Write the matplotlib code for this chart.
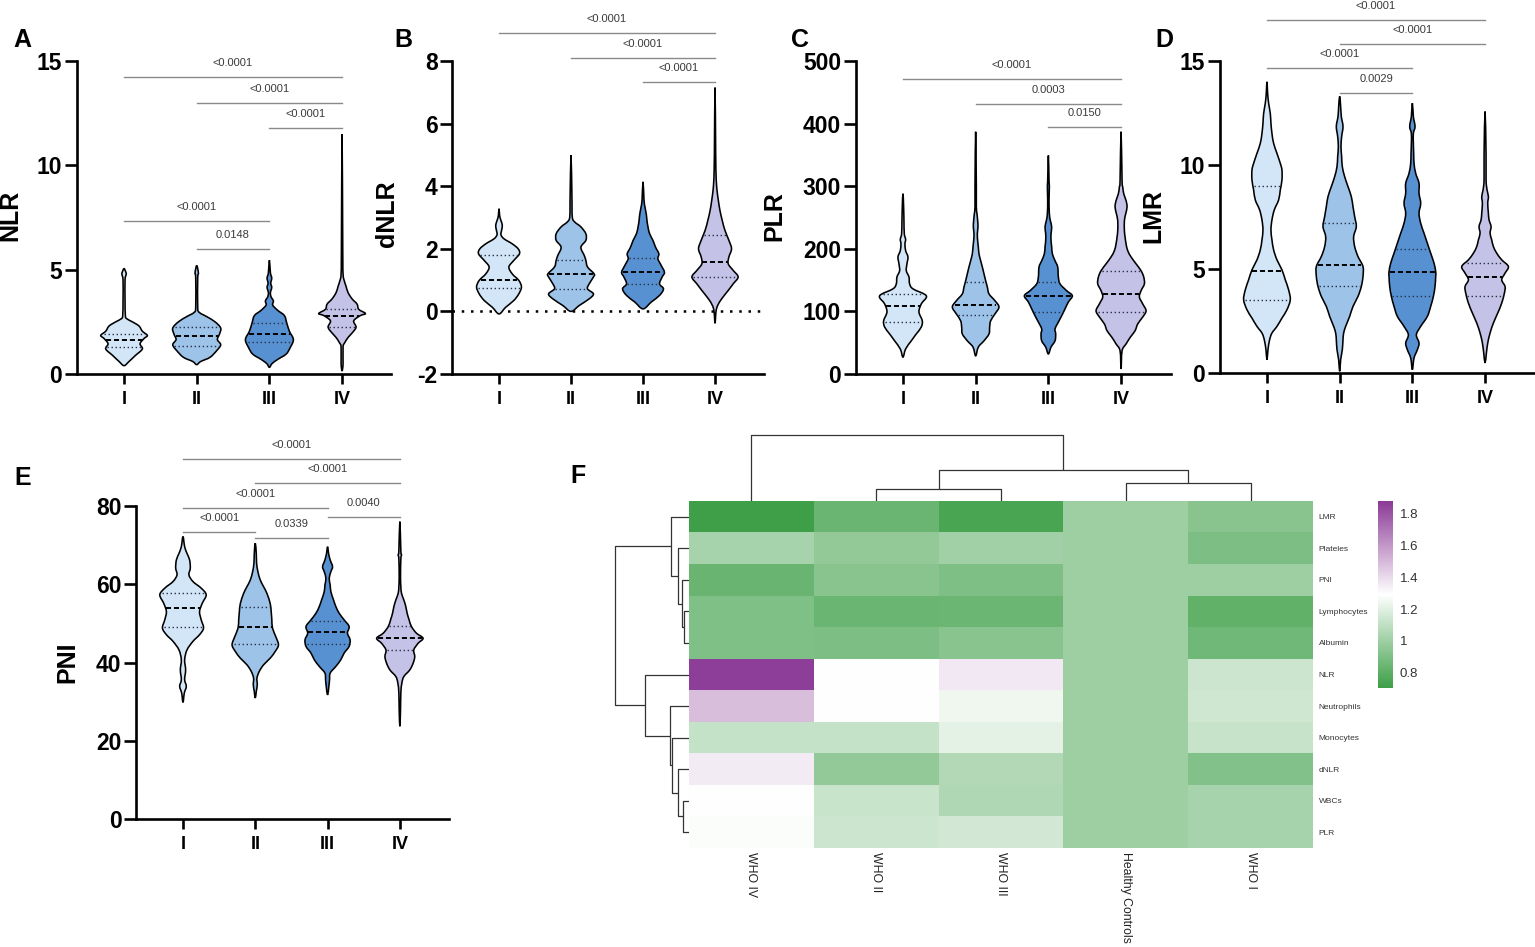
import numpy as np
import matplotlib
matplotlib.use("Agg")
import matplotlib.pyplot as plt
from matplotlib.path import Path
from matplotlib.patches import PathPatch
from matplotlib.colors import LinearSegmentedColormap

plt.rcParams['font.family'] = ['Liberation Sans', 'DejaVu Sans']
plt.rcParams['axes.unicode_minus'] = False

W, H = 1535, 947
fig = plt.figure(figsize=(W / 100, H / 100), dpi=100)

groups = ["I", "II", "III", "IV"]
fill_colors = ["#d2e6f7", "#9dc3e9", "#5891d2", "#c4c2e6"]

# ---------------- violin outlines: (value, relative half-width; 72 = widest) ----------------
nlr_prof = [
    [(0.4, 0), (0.6, 15), (0.9, 35), (1.2, 55), (1.45, 48), (1.7, 60), (1.85, 70), (2.05, 55), (2.3, 45),
     (2.5, 25), (2.65, 8), (2.8, 4), (3.5, 3), (4.5, 3), (4.75, 6), (4.85, 6), (5.05, 0)],
    [(0.45, 0), (0.6, 12), (0.8, 40), (1.12, 60), (1.4, 72), (1.65, 62), (1.9, 68), (2.2, 72), (2.5, 55),
     (2.75, 30), (2.95, 8), (3.2, 3), (4.6, 3), (4.85, 5), (5.2, 0)],
    [(0.32, 0), (0.5, 8), (0.7, 25), (0.95, 50), (1.25, 62), (1.65, 72), (2.05, 60), (2.45, 52), (2.8, 45),
     (3.05, 25), (3.3, 10), (3.5, 12), (3.7, 5), (3.9, 3), (4.15, 7), (4.35, 4), (4.6, 7), (4.85, 3), (5.45, 0)],
    [(0.15, 0), (0.5, 3), (1.3, 3), (1.5, 8), (1.75, 18), (2.0, 32), (2.25, 42), (2.55, 35), (2.8, 55),
     (2.9, 70), (3.1, 50), (3.35, 45), (3.6, 30), (3.9, 18), (4.2, 12), (4.5, 6), (4.8, 3), (6.0, 2), (11.5, 0)],
]
nlr_median = [1.63, 1.84, 1.92, 2.80]
nlr_q1 = [1.28, 1.36, 1.52, 2.24]
nlr_q3 = [1.92, 2.24, 2.43, 3.12]
nlr_sig_pairs = [(1, 4), (2, 4), (3, 4), (1, 3), (2, 3)]
nlr_sig_y = [14.23, 12.98, 11.77, 7.32, 5.97]
nlr_sig_txt = ["<0.0001", "<0.0001", "<0.0001", "<0.0001", "0.0148"]

dnlr_prof = [
    [(-0.08, 0), (0.13, 20), (0.35, 45), (0.56, 60), (0.78, 68), (0.99, 60), (1.2, 40), (1.42, 30), (1.63, 45),
     (1.84, 62), (2.0, 58), (2.16, 40), (2.32, 15), (2.45, 6), (2.6, 8), (2.75, 10), (2.9, 6), (3.05, 2), (3.28, 0)],
    [(0.0, 0), (0.19, 25), (0.4, 55), (0.56, 68), (0.72, 50), (0.88, 55), (1.1, 68), (1.2, 70), (1.42, 50),
     (1.63, 45), (1.79, 40), (2.05, 30), (2.27, 45), (2.48, 45), (2.7, 30), (2.85, 12), (3.0, 4), (3.5, 3), (4.99, 0)],
    [(0.08, 0), (0.3, 25), (0.51, 50), (0.72, 62), (0.88, 50), (1.1, 58), (1.25, 65), (1.47, 55), (1.68, 45),
     (1.84, 48), (2.05, 38), (2.27, 30), (2.48, 20), (2.7, 15), (2.9, 12), (3.1, 10), (3.33, 6), (3.55, 3), (4.14, 0)],
    [(-0.38, 0), (0.0, 3), (0.19, 8), (0.4, 20), (0.67, 40), (0.88, 55), (1.1, 70), (1.31, 55), (1.52, 40),
     (1.74, 42), (2.0, 50), (2.27, 42), (2.59, 30), (2.9, 22), (3.22, 15), (3.55, 10), (3.87, 6), (4.14, 4),
     (4.4, 3), (5.0, 2), (7.15, 0)],
]
dnlr_median = [1.01, 1.20, 1.25, 1.58]
dnlr_q1 = [0.75, 0.72, 0.88, 1.10]
dnlr_q3 = [1.81, 1.65, 1.70, 2.43]
dnlr_sig_pairs = [(1, 4), (2, 4), (3, 4)]
dnlr_sig_y = [8.89, 8.11, 7.34]
dnlr_sig_txt = ["<0.0001", "<0.0001", "<0.0001"]

plr_prof = [
    [(27, 0), (40, 8), (53, 25), (64, 40), (75, 55), (85, 58), (99, 48), (112, 55), (125, 70), (136, 30),
     (144, 20), (155, 18), (165, 10), (176, 12), (187, 15), (197, 8), (208, 6), (215, 8), (224, 4), (245, 3),
     (267, 2), (288, 0)],
    [(29, 0), (43, 8), (53, 25), (64, 40), (75, 42), (85, 45), (96, 58), (107, 70), (117, 58), (128, 40),
     (139, 35), (149, 30), (160, 25), (171, 20), (181, 15), (192, 10), (203, 8), (213, 6), (224, 5), (235, 7),
     (245, 6), (256, 4), (267, 2), (300, 2), (387, 0)],
    [(32, 0), (43, 8), (53, 20), (64, 22), (72, 20), (83, 30), (93, 40), (104, 50), (115, 60), (125, 72),
     (133, 55), (144, 35), (155, 30), (171, 28), (181, 20), (192, 12), (203, 10), (213, 8), (224, 8), (235, 10),
     (245, 6), (256, 3), (277, 2), (299, 3), (309, 2), (349, 0)],
    [(8, 0), (37, 3), (48, 15), (59, 28), (69, 42), (80, 50), (91, 65), (101, 75), (112, 65), (123, 55),
     (133, 60), (144, 70), (155, 68), (165, 60), (176, 45), (187, 30), (197, 20), (208, 15), (219, 12),
     (229, 10), (245, 10), (256, 14), (267, 18), (277, 15), (288, 8), (299, 5), (309, 3), (387, 0)],
]
plr_median = [109, 111, 125, 128]
plr_q1 = [83, 94, 99, 99]
plr_q3 = [127, 147, 147, 165]
plr_sig_pairs = [(1, 4), (2, 4), (3, 4)]
plr_sig_y = [471, 432, 394]
plr_sig_txt = ["<0.0001", "0.0003", "0.0150"]

lmr_prof = [
    [(0.64, 0), (1.12, 3), (1.6, 8), (1.92, 15), (2.24, 30), (2.64, 45), (3.04, 60), (3.52, 70), (4.0, 65),
     (4.48, 55), (4.96, 45), (5.44, 30), (5.92, 20), (6.4, 15), (6.88, 12), (7.36, 15), (7.84, 22), (8.32, 35),
     (8.8, 40), (9.28, 45), (9.76, 45), (10.08, 40), (10.56, 30), (11.04, 20), (11.52, 15), (12.0, 12),
     (12.48, 10), (12.97, 5), (13.45, 2), (14.0, 0)],
    [(0.08, 0), (0.64, 3), (1.12, 8), (1.6, 10), (1.92, 12), (2.24, 18), (2.72, 30), (3.2, 40), (3.68, 55),
     (4.16, 65), (4.64, 70), (5.12, 70), (5.6, 55), (6.08, 45), (6.56, 42), (7.04, 50), (7.52, 45), (8.0, 40),
     (8.48, 35), (8.96, 25), (9.44, 15), (9.92, 8), (10.4, 6), (10.88, 4), (11.37, 6), (11.85, 10), (12.33, 5),
     (12.8, 3), (13.3, 0)],
    [(0.16, 0), (0.72, 5), (1.12, 15), (1.44, 20), (1.84, 12), (2.24, 25), (2.72, 45), (3.2, 55), (3.68, 63),
     (4.16, 68), (4.64, 70), (4.88, 70), (5.28, 65), (5.76, 55), (6.24, 45), (6.72, 35), (7.2, 25), (7.68, 20),
     (8.16, 25), (8.64, 20), (9.12, 20), (9.6, 10), (10.08, 5), (10.56, 4), (11.04, 3), (11.52, 3), (11.85, 8),
     (12.33, 3), (12.97, 0)],
    [(0.48, 0), (0.96, 4), (1.44, 8), (1.92, 15), (2.4, 25), (2.88, 38), (3.36, 50), (3.84, 58), (4.16, 60),
     (4.48, 50), (4.8, 60), (5.12, 70), (5.44, 50), (5.76, 35), (6.08, 25), (6.4, 20), (6.72, 15), (7.04, 18),
     (7.36, 12), (7.68, 10), (8.16, 8), (8.48, 10), (8.8, 6), (9.28, 3), (10.5, 3), (12.57, 0)],
]
lmr_median = [4.88, 5.17, 4.85, 4.60]
lmr_q1 = [3.52, 4.16, 3.71, 3.71]
lmr_q3 = [9.00, 7.20, 5.95, 5.31]
lmr_sig_pairs = [(1, 4), (2, 4), (1, 3), (2, 3)]
lmr_sig_y = [16.99, 15.82, 14.65, 13.48]
lmr_sig_txt = ["<0.0001", "<0.0001", "<0.0001", "0.0029"]

pni_prof = [
    [(29.8, 0), (32.2, 4), (33.9, 10), (35.6, 5), (38.1, 8), (40.7, 5), (43.2, 12), (45.4, 30), (47.1, 50),
     (48.8, 62), (50.9, 55), (53.0, 50), (55.1, 58), (57.3, 70), (59.0, 55), (60.7, 30), (62.4, 18), (64.1, 22),
     (66.2, 20), (67.9, 12), (69.6, 5), (72.2, 0)],
    [(30.9, 0), (32.6, 3), (34.3, 6), (36.0, 5), (37.7, 12), (39.4, 25), (41.1, 45), (42.8, 60), (44.5, 70),
     (46.6, 62), (48.8, 52), (50.9, 50), (53.0, 48), (55.1, 45), (57.7, 35), (59.4, 25), (61.1, 15), (63.2, 8),
     (65.4, 4), (67.9, 3), (70.5, 0)],
    [(31.7, 0), (33.9, 4), (35.6, 6), (37.3, 8), (39.0, 25), (40.7, 40), (42.4, 50), (44.1, 65), (45.8, 68),
     (47.5, 60), (49.2, 65), (50.9, 50), (52.6, 35), (54.3, 25), (56.0, 18), (58.1, 10), (59.8, 8), (61.5, 5),
     (63.2, 10), (64.5, 15), (66.2, 8), (67.9, 3), (69.6, 0)],
    [(23.7, 0), (27.9, 2), (32.2, 3), (34.7, 6), (36.4, 12), (38.1, 30), (39.8, 40), (41.5, 45), (43.2, 42),
     (44.9, 55), (46.2, 70), (47.5, 50), (49.2, 35), (50.9, 28), (52.6, 22), (54.3, 18), (56.0, 12), (57.7, 5),
     (59.4, 3), (62.0, 2), (66.5, 3), (67.5, 5), (68.5, 3), (76.0, 0)],
]
pni_median = [53.9, 49.0, 47.7, 46.2]
pni_q1 = [49.0, 44.8, 44.8, 43.2]
pni_q3 = [57.7, 54.3, 50.6, 49.4]
pni_sig_pairs = [(1, 4), (2, 4), (1, 3), (3, 4), (1, 2), (2, 3)]
pni_sig_y = [92.0, 85.8, 79.6, 77.3, 73.4, 71.8]
pni_sig_txt = ["<0.0001", "<0.0001", "<0.0001", "0.0040", "<0.0001", "0.0339"]

# ---------------- heatmap data ----------------
heat_rows = ["LMR", "Plateles", "PNI", "Lymphocytes", "Albumin", "NLR", "Neutrophils",
             "Monocytes", "dNLR", "WBCs", "PLR"]
heat_cols = ["WHO IV", "WHO II", "WHO III", "Healthy Controls", "WHO I"]
who4_vals = [0.71, 1.026, 0.842, 0.91, 0.91, 1.86, 1.48, 1.114, 1.35, 1.29, 1.28]
who2_vals = [0.845, 0.962, 0.937, 0.845, 0.90, 1.29, 1.29, 1.117, 0.968, 1.127, 1.136]
who3_vals = [0.745, 1.01, 0.904, 0.85, 0.937, 1.36, 1.243, 1.212, 1.06, 1.053, 1.157]
hc_vals = [1.0, 1.0, 1.0, 1.0, 1.0, 1.0, 1.0, 1.0, 1.0, 1.0, 1.0]
who1_vals = [0.937, 0.90, 1.0, 0.818, 0.864, 1.136, 1.145, 1.124, 0.919, 1.026, 1.026]
cbar_ticks = [0.8, 1.0, 1.2, 1.4, 1.6, 1.8]
cbar_labels = ["0.8", "1", "1.2", "1.4", "1.6", "1.8"]

# dendrogram merges (child a, child b, height); leaves in displayed order
col_merges = [(1, 2, 0.12), (3, 4, 0.18), (5, 6, 0.31), (0, 7, 0.66)]
row_merges = [(3, 4, 0.046), (2, 11, 0.073), (1, 12, 0.11), (0, 13, 0.18),
              (9, 10, 0.06), (8, 15, 0.11), (7, 16, 0.17), (6, 17, 0.19),
              (5, 18, 0.436), (14, 19, 0.74)]

WMAX = 0.33


def add_ax(l, t, w, h):
    return fig.add_axes([l / W, 1 - (t + h) / H, w / W, h / H])


def violin_path(x0, prof):
    """Closed outline through every knot, drawn as cubic Bezier pieces by matplotlib."""
    ys = [p[0] for p in prof]
    ws = [p[1] / 72 * WMAX for p in prof]
    right = [(x0 + w, y) for y, w in zip(ys, ws)]
    left = [(x0 - w, y) for y, w in zip(ys[::-1], ws[::-1])]
    pts = np.array(right + left[1:-1])
    n = len(pts)
    verts = [tuple(pts[0])]
    codes = [Path.MOVETO]
    for i in range(n):
        p0 = pts[(i - 1) % n]
        p1 = pts[i]
        p2 = pts[(i + 1) % n]
        p3 = pts[(i + 2) % n]
        c1 = p1 + (p2 - p0) / 6.0
        c2 = p2 - (p3 - p1) / 6.0
        verts += [tuple(c1), tuple(c2), tuple(p2)]
        codes += [Path.CURVE4] * 3
    verts.append(tuple(pts[0]))
    codes.append(Path.CLOSEPOLY)
    return Path(verts, codes)


def violin_panel(ax, profs, med, q1, q3, yticks, ylim, pairs, sig_y, sig_txt):
    for i, (prof, c) in enumerate(zip(profs, fill_colors)):
        x0 = i + 1
        ax.add_patch(PathPatch(violin_path(x0, prof), facecolor=c, edgecolor="black",
                               lw=1.15, zorder=3))
        ys = [p[0] for p in prof]
        ws = [p[1] / 72 * WMAX for p in prof]
        for val, ls, lw, col in [(q1[i], (0, (1, 1.9)), 1.0, "#263248"),
                                 (q3[i], (0, (1, 1.9)), 1.0, "#263248"),
                                 (med[i], (0, (2.6, 1.5)), 1.4, "black")]:
            hw = np.interp(val, ys, ws) * 0.95
            ax.plot([x0 - hw, x0 + hw], [val, val], ls=ls, lw=lw, color=col, zorder=4)
    for (a, b), yv, t in zip(pairs, sig_y, sig_txt):
        ax.plot([a, b], [yv, yv], color="#8a8a8a", lw=1.0, clip_on=False, zorder=2)
        ax.annotate(t, xy=((a + b) / 2, yv), xytext=(0, 6.5), textcoords="offset points",
                    ha="center", va="bottom", fontsize=8, color="#3a3a3a", annotation_clip=False)
    ax.set_xlim(0.35, 4.68)
    ax.set_ylim(*ylim)
    ax.set_xticks([1, 2, 3, 4])
    ax.set_xticklabels(groups, fontsize=13, fontweight="bold")
    ax.set_yticks(yticks)
    ax.set_yticklabels([str(v) for v in yticks], fontsize=16.5, fontweight="bold")
    for s in ["top", "right"]:
        ax.spines[s].set_visible(False)
    for s in ["left", "bottom"]:
        ax.spines[s].set_linewidth(1.9)
    ax.tick_params(axis="y", length=8.5, width=1.9, pad=2)
    ax.tick_params(axis="x", length=7, width=1.9, pad=5)
    ax.patch.set_alpha(0)


axA = add_ax(76.8, 61, 314.7, 313)
violin_panel(axA, nlr_prof, nlr_median, nlr_q1, nlr_q3, [0, 5, 10, 15], (0, 15),
             nlr_sig_pairs, nlr_sig_y, nlr_sig_txt)
axB = add_ax(452.2, 61, 311.8, 313)
axB.axhline(0, color="black", lw=1.8, ls=(0, (1, 2.7)), zorder=1)
violin_panel(axB, dnlr_prof, dnlr_median, dnlr_q1, dnlr_q3, [-2, 0, 2, 4, 6, 8], (-2, 8),
             dnlr_sig_pairs, dnlr_sig_y, dnlr_sig_txt)
axC = add_ax(855.7, 61, 314.8, 313)
violin_panel(axC, plr_prof, plr_median, plr_q1, plr_q3, [0, 100, 200, 300, 400, 500], (0, 500),
             plr_sig_pairs, plr_sig_y, plr_sig_txt)
axD = add_ax(1219.7, 61, 314.8, 312)
violin_panel(axD, lmr_prof, lmr_median, lmr_q1, lmr_q3, [0, 5, 10, 15], (0, 15),
             lmr_sig_pairs, lmr_sig_y, lmr_sig_txt)
axE = add_ax(136, 506, 313, 313)
violin_panel(axE, pni_prof, pni_median, pni_q1, pni_q3, [0, 20, 40, 60, 80], (0, 80),
             pni_sig_pairs, pni_sig_y, pni_sig_txt)

# y labels
for txt, x, y in [("NLR", 10, 215), ("dNLR", 387, 214), ("PLR", 774, 216),
                  ("LMR", 1153, 216), ("PNI", 67, 662)]:
    fig.text(x / W, 1 - y / H, txt, rotation=90, ha="center", va="center",
             fontsize=18, fontweight="bold")

# panel letters
for txt, x, y in [("A", 13, 47), ("B", 394, 47), ("C", 791, 47), ("D", 1155, 47),
                  ("E", 14, 485), ("F", 570, 483)]:
    fig.text(x / W, 1 - y / H, txt, ha="left", va="baseline", fontsize=18, fontweight="bold")

# ---------------- heatmap ----------------
cmap = LinearSegmentedColormap.from_list("gwp", [(0.0, "#3d9f47"), (0.5, "#ffffff"), (1.0, "#8b3a96")])
data = np.column_stack([who4_vals, who2_vals, who3_vals, hc_vals, who1_vals])
axH = add_ax(689, 501, 624, 347)
im = axH.imshow(data, cmap=cmap, vmin=0.705, vmax=1.878, aspect="auto",
                extent=(0, 5, 11, 0), interpolation="nearest")
axH.set_xticks(np.arange(5) + 0.5)
axH.set_xticklabels(heat_cols, rotation=-90, fontsize=8.8, color="#222222", va="top", ha="center")
axH.yaxis.tick_right()
axH.set_yticks(np.arange(11) + 0.5)
axH.set_yticklabels(heat_rows, fontsize=6, color="#333333")
axH.tick_params(length=0)
axH.tick_params(axis="y", pad=4)
axH.tick_params(axis="x", pad=3)
for s in axH.spines.values():
    s.set_visible(False)


def draw_dendro(ax, n, merges, orient):
    pos = {i: i + 0.5 for i in range(n)}
    hgt = {i: 0.0 for i in range(n)}
    for k, (a, b, h) in enumerate(merges):
        pa, pb = pos[a], pos[b]
        seg_p = [pa, pa, pb, pb]
        seg_h = [hgt[a], h, h, hgt[b]]
        if orient == "top":
            ax.plot(seg_p, seg_h, color="#333333", lw=0.9, solid_capstyle="butt")
        else:
            ax.plot(seg_h, seg_p, color="#333333", lw=0.9, solid_capstyle="butt")
        pos[n + k] = (pa + pb) / 2
        hgt[n + k] = h


axCD = add_ax(689, 431, 624, 70)
draw_dendro(axCD, 5, col_merges, "top")
axCD.set_xlim(0, 5)
axCD.set_ylim(0, 0.70)
axCD.axis("off")

axRD = add_ax(612, 501, 77, 347)
draw_dendro(axRD, 11, row_merges, "left")
axRD.set_xlim(0.77, 0)
axRD.set_ylim(11, 0)
axRD.axis("off")

cax = add_ax(1378, 501, 15, 187)
cb = fig.colorbar(im, cax=cax, ticks=cbar_ticks)
cb.ax.set_yticklabels(cbar_labels)
cb.outline.set_visible(False)
cax.tick_params(length=0, labelsize=9.5, pad=5, labelcolor="#333333")

fig.savefig("out.png", dpi=100)
